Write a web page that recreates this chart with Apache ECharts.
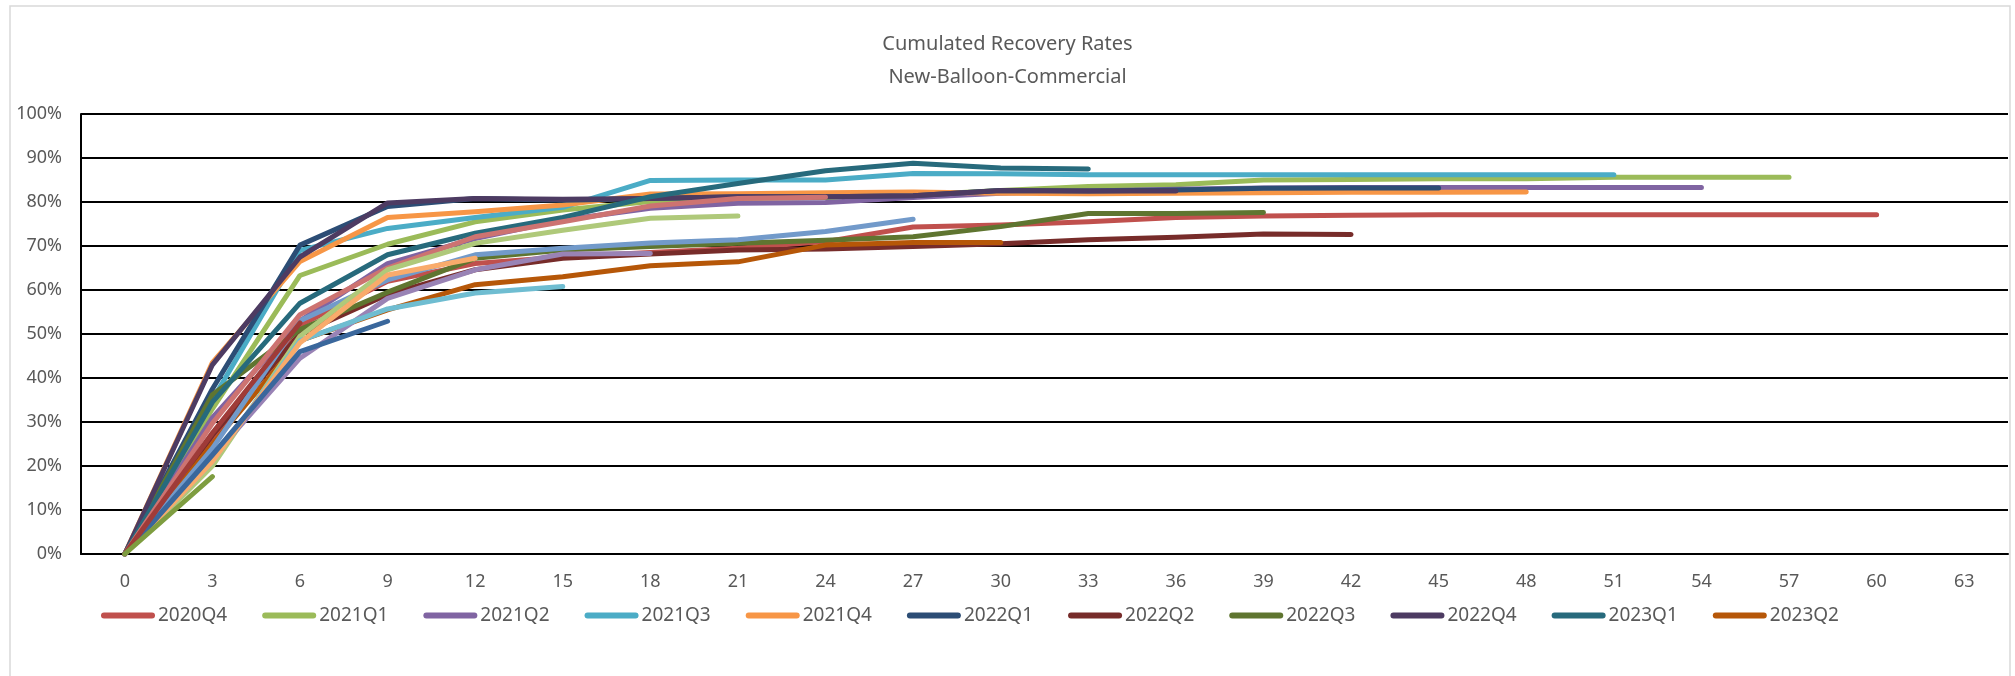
<!DOCTYPE html>
<html>
<head>
<meta charset="utf-8">
<script src="https://cdn.jsdelivr.net/npm/echarts@6/dist/echarts.min.js"></script>
<style>
  html, body { margin: 0; padding: 0; background: #fff; }
  #chart { width: 2015px; height: 676px; }
</style>
</head>
<body>
<div id="chart"></div>
<script>
// months since origination (x axis categories)
var months = [0, 3, 6, 9, 12, 15, 18, 21, 24, 27, 30, 33, 36, 39, 42, 45, 48, 51, 54, 57, 60, 63];

// cumulated recovery rate in %, one list per vintage
var r2020Q4 = [0, 26, 52, 62, 66, 67.5, 68.5, 69.5, 71, 74.3, 74.8, 75.5, 76.5, 76.8, 77, 77.1, 77.1, 77.1, 77.1, 77.1, 77.1];
var r2021Q1 = [0, 33, 63.3, 70.4, 75.5, 78.2, 80.1, 80.8, 81, 81.6, 82.6, 83.5, 83.9, 85, 85.1, 85.3, 85.3, 85.6, 85.6, 85.6];
var r2021Q2 = [0, 31, 53, 66, 71.7, 75.9, 78.6, 79.7, 79.9, 81, 82, 82.5, 82.9, 83.2, 83.3, 83.3, 83.3, 83.3, 83.3];
var r2021Q3 = [0, 35, 69, 74, 76.5, 78.8, 84.9, 85, 85, 86.5, 86.4, 86.2, 86.2, 86.2, 86.2, 86.2, 86.2, 86.2];
var r2021Q4 = [0, 43.5, 66.5, 76.5, 77.8, 79.3, 81.8, 81.9, 82.1, 82.3, 82, 81.9, 82, 82.1, 82.2, 82.2, 82.3];
var r2022Q1 = [0, 37.5, 70.2, 79, 80.8, 80.4, 80.8, 81.2, 81.2, 81.4, 82.6, 82.5, 82.7, 83.1, 83.2, 83.2];
var r2022Q2 = [0, 27, 50, 59, 64.6, 67.2, 68.2, 69.1, 69.3, 69.9, 70.5, 71.4, 72, 72.7, 72.6];
var r2022Q3 = [0, 36.2, 51, 59.5, 67.2, 69.1, 69.9, 70.6, 71.3, 72.1, 74.4, 77.4, 77.4, 77.6];
var r2022Q4 = [0, 43, 67.5, 79.8, 80.8, 80.6, 80.8, 81.2, 81.2, 81.4, 82.6, 82.5, 82.5];
var r2023Q1 = [0, 34.5, 57, 68, 72.9, 76.5, 81.2, 84.2, 87.1, 88.8, 87.7, 87.5];
var r2023Q2 = [0, 25, 48.5, 55.5, 61.2, 63, 65.5, 66.4, 70.2, 70.8, 70.8];
var r2023Q3 = [0, 24, 53, 62.3, 68, 69.5, 70.7, 71.4, 73.3, 76.1];
var r2023Q4 = [0, 29.7, 54.4, 65, 72.1, 75.5, 79.1, 80.8, 81.1];
var r2024Q1 = [0, 20, 49.5, 64.6, 70.6, 73.6, 76.3, 76.8];
var r2024Q2 = [0, 22, 44.5, 58.1, 64.6, 68.2, 68.3];
var r2024Q3 = [0, 21, 48.5, 55.7, 59.3, 60.8];
var r2024Q4 = [0, 21, 48, 63.4, 67.2];
var r2025Q1 = [0, 22.5, 46, 52.9];
var r2025Q2 = [0, 27.5, 52.5];
var r2025Q3 = [0, 17.6];

var names = ["2020Q4", "2021Q1", "2021Q2", "2021Q3", "2021Q4", "2022Q1", "2022Q2", "2022Q3", "2022Q4", "2023Q1", "2023Q2",
             "2023Q3", "2023Q4", "2024Q1", "2024Q2", "2024Q3", "2024Q4", "2025Q1", "2025Q2", "2025Q3"];
var values = [r2020Q4, r2021Q1, r2021Q2, r2021Q3, r2021Q4, r2022Q1, r2022Q2, r2022Q3, r2022Q4, r2023Q1, r2023Q2,
              r2023Q3, r2023Q4, r2024Q1, r2024Q2, r2024Q3, r2024Q4, r2025Q1, r2025Q2, r2025Q3];
// only the first vintages are listed in the legend
var legendNames = names.slice(0, 11);
var yTicks = [0, 10, 20, 30, 40, 50, 60, 70, 80, 90, 100];

// office palette: accents, darker, lighter, then darker again
var colors = ["#C0504D", "#9BBB59", "#8064A2", "#4BACC6", "#F79646",
              "#2C4D75", "#772C2A", "#5F7530", "#4D3B62", "#276A7C", "#B65708",
              "#729ACA", "#CD7371", "#AFC97A", "#9983B5", "#6FBDD1", "#F9AB6B",
              "#3A679C", "#9F3B38", "#7E9D40"];

var font = "Noto Sans";
var grey = "#595959";

var myChart = echarts.init(document.getElementById("chart"));

var series = [];
for (var i = 0; i < names.length; i++) {
  series.push({
    name: names[i],
    type: "line",
    data: values[i],
    symbol: "none",
    color: colors[i],
    lineStyle: { width: 5, color: colors[i], cap: "round", join: "round" },
    emphasis: { disabled: true },
    animation: false
  });
}

myChart.setOption({
  animation: false,
  title: {
    text: "Cumulated Recovery Rates\nNew-Balloon-Commercial",
    left: "center",
    top: 23,
    textStyle: { fontFamily: font, fontSize: 20, fontWeight: "normal", color: grey, lineHeight: 33 }
  },
  graphic: [
    {
      // chart area border
      type: "rect",
      shape: { x: 10, y: 6, width: 2000, height: 700 },
      style: { fill: null, stroke: "#D9D9D9", lineWidth: 1.5 },
      silent: true
    }
  ],
  legend: {
    data: legendNames,
    left: 101,
    top: 606,
    padding: 0,
    itemWidth: 54,
    itemHeight: 6,
    itemGap: 35,
    icon: "path://M3,0 L51,0 A3,3 0 0 1 51,6 L3,6 A3,3 0 0 1 3,0 Z",
    textStyle: { fontFamily: font, fontSize: 19, color: grey, width: 70, padding: [0, 0, 0, -2] }
  },
  grid: { left: 81, right: 7, top: 114, bottom: 122, containLabel: false },
  xAxis: {
    type: "category",
    data: months,
    boundaryGap: true,
    axisLine: { show: true, lineStyle: { color: "#000", width: 2 } },
    axisTick: { show: false },
    axisLabel: { interval: 0, margin: 19, fontFamily: font, fontSize: 18, color: grey },
    splitLine: { show: false }
  },
  yAxis: {
    type: "value",
    min: yTicks[0],
    max: yTicks[yTicks.length - 1],
    interval: 10,
    axisLine: { show: true, lineStyle: { color: "#000", width: 2 } },
    axisTick: { show: false },
    axisLabel: { formatter: "{value}%", margin: 19, fontFamily: font, fontSize: 18, color: grey },
    splitLine: { show: true, lineStyle: { color: "#000", width: 2 } }
  },
  series: series
});
</script>
</body>
</html>
